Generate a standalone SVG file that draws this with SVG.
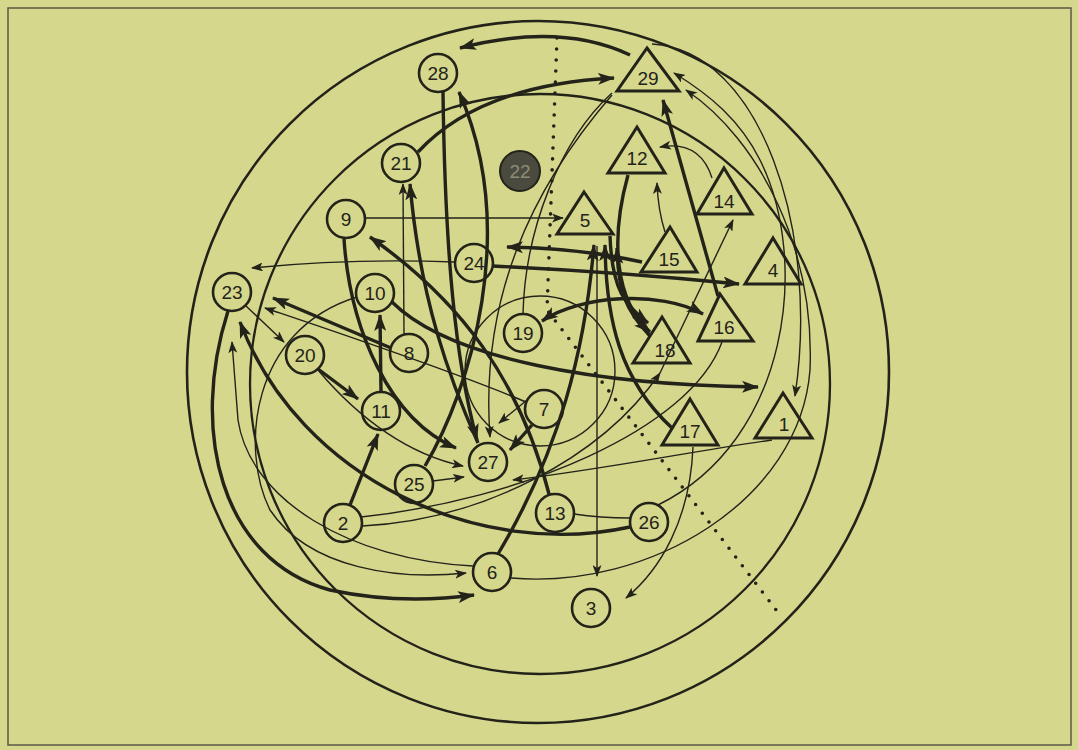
<svg xmlns="http://www.w3.org/2000/svg" width="1078" height="750" viewBox="0 0 1078 750">
<style>
.bg{fill:#d5d78c}
.frame{fill:none;stroke:#5a5a48;stroke-width:1.5}
.ring{fill:none;stroke:#23231a;stroke-width:2.6}
.ring2{fill:none;stroke:#23231a;stroke-width:2.3}
.k{fill:none;stroke:#23231a;stroke-width:3.4}
.t{fill:none;stroke:#23231a;stroke-width:1.4}
.nd{fill:none;stroke:#23231a;stroke-width:2.6}
.tri{fill:none;stroke:#23231a;stroke-width:3;stroke-linejoin:miter}
.lb{font-family:"Liberation Sans",Arial,sans-serif;font-size:19px;fill:#23231a;text-anchor:middle}
.dots{fill:none;stroke:#23231a;stroke-width:3.6;stroke-linecap:round;stroke-dasharray:0 11}
</style>
<defs>
<marker id="ak" markerUnits="userSpaceOnUse" markerWidth="17" markerHeight="12" refX="16" refY="6" orient="auto-start-reverse"><path d="M0,0 L17,6 L0,12 L4,6 Z" fill="#23231a"/></marker>
<marker id="at" markerUnits="userSpaceOnUse" markerWidth="12" markerHeight="9" refX="11" refY="4.5" orient="auto-start-reverse"><path d="M0,0 L12,4.5 L0,9 L3,4.5 Z" fill="#23231a"/></marker>
</defs>
<rect class="bg" x="0" y="0" width="1078" height="750"/>
<rect class="frame" x="8" y="8" width="1063" height="737"/>
<g id="rings">
<circle class="ring" cx="538" cy="372" r="351"/>
<circle class="ring2" cx="540" cy="384" r="290"/>
<circle class="t" cx="540" cy="371" r="75"/>
<polyline class="dots" points="557,38 547,310 780,615"/>
</g>
<g id="connectors">
<path class="k" d="M630,55 Q560,22 460,48" marker-end="url(#ak)"/>
<path class="k" d="M418,152 Q480,85 614,78" marker-end="url(#ak)"/>
<path class="k" d="M443,92 C445,250 455,360 477,440" marker-end="url(#ak)"/>
<path class="k" d="M425,466 C470,390 520,230 459,92" marker-end="url(#ak)"/>
<path class="k" d="M478,443 C450,380 420,300 410,184" marker-end="url(#ak)"/>
<path class="k" d="M344,239 C350,330 390,420 456,448" marker-end="url(#ak)"/>
<path class="k" d="M549,494 C520,380 460,300 370,237" marker-end="url(#ak)"/>
<path class="k" d="M392,302 C450,360 600,385 758,387" marker-end="url(#ak)"/>
<path class="k" d="M391,348 L273,298" marker-end="url(#ak)"/>
<path class="k" d="M381,392 L380,315" marker-end="url(#ak)"/>
<path class="k" d="M318,369 L358,399" marker-end="url(#ak)"/>
<path class="k" d="M350,505 L378,434" marker-end="url(#ak)"/>
<path class="k" d="M228,311 C190,430 220,560 330,590 Q400,605 474,595" marker-end="url(#ak)"/>
<path class="k" d="M630,527 C480,560 300,480 240,322" marker-end="url(#ak)"/>
<path class="k" d="M493,266 Q620,272 739,284" marker-end="url(#ak)"/>
<path class="k" d="M642,262 Q580,248 507,247" marker-end="url(#ak)"/>
<path class="k" d="M542,321 C580,295 660,290 703,314" marker-start="url(#ak)" marker-end="url(#ak)"/>
<path class="k" d="M718,296 L663,100" marker-end="url(#ak)"/>
<path class="k" d="M498,554 C560,450 585,350 594,245" marker-end="url(#ak)"/>
<path class="k" d="M672,428 C620,380 606,320 605,245" marker-end="url(#ak)"/>
<path class="k" d="M610,236 C612,290 625,305 648,323" marker-end="url(#ak)"/>
<path class="k" d="M650,336 C625,310 618,290 617,248" marker-end="url(#ak)"/>
<path class="k" d="M628,175 C610,240 615,300 650,332" marker-end="url(#ak)"/>
<path class="k" d="M532,425 L510,450" marker-end="url(#ak)"/>
<path class="t" d="M366,218 L563,218" marker-end="url(#at)"/>
<path class="t" d="M455,262 Q350,258 252,268" marker-end="url(#at)"/>
<path class="t" d="M712,178 Q700,140 660,147" marker-end="url(#at)"/>
<path class="t" d="M665,232 Q658,210 657,183" marker-end="url(#at)"/>
<path class="t" d="M404,334 L403,184" marker-end="url(#at)"/>
<path class="t" d="M246,306 L284,342" marker-end="url(#at)"/>
<path class="t" d="M526,402 C450,370 330,330 265,308" marker-end="url(#at)"/>
<path class="t" d="M527,400 L499,423" marker-end="url(#at)"/>
<path class="t" d="M433,481 L464,477" marker-end="url(#at)"/>
<path class="t" d="M318,370 C360,420 410,455 463,466" marker-end="url(#at)"/>
<path class="t" d="M612,95 C530,190 480,300 490,437" marker-end="url(#at)"/>
<path class="t" d="M523,314 C525,230 560,140 612,93"/>
<path class="t" d="M597,246 L597,576" marker-end="url(#at)"/>
<path class="t" d="M693,447 C690,520 660,570 626,598" marker-end="url(#at)"/>
<path class="t" d="M574,514 Q600,518 630,518"/>
<path class="t" d="M362,526 C480,520 600,460 660,373" marker-end="url(#at)"/>
<path class="t" d="M722,342 C690,430 520,500 361,517"/>
<path class="t" d="M660,373 L733,220" marker-end="url(#at)"/>
<path class="t" d="M772,440 C700,450 600,470 513,480" marker-end="url(#at)"/>
<path class="t" d="M652,44 C760,50 820,230 795,396" marker-end="url(#at)"/>
<path class="t" d="M658,505 C790,440 810,260 760,160 C740,120 710,95 674,73" marker-end="url(#at)"/>
<path class="t" d="M511,578 C650,590 800,500 810,370 C815,250 760,140 686,90" marker-end="url(#at)"/>
<path class="t" d="M357,297 C250,330 240,450 270,510 C310,570 400,580 466,573" marker-end="url(#at)"/>
<path class="t" d="M473,566 C350,560 250,500 238,420 L232,342" marker-end="url(#at)"/>
</g>
<g id="n28"><circle class="nd" cx="438" cy="73" r="19"/><text class="lb" x="438" y="80">28</text></g>
<g id="n21"><circle class="nd" cx="401" cy="163" r="19"/><text class="lb" x="401" y="170">21</text></g>
<g id="n22"><circle cx="520" cy="171" r="20" fill="#4a4a3e" stroke="#23231a" stroke-width="2"/><text class="lb" x="520" y="178" style="fill:#8e8e78">22</text></g>
<g id="n9"><circle class="nd" cx="346" cy="219" r="19"/><text class="lb" x="346" y="226">9</text></g>
<g id="n24"><circle class="nd" cx="474" cy="263" r="19"/><text class="lb" x="474" y="270">24</text></g>
<g id="n23"><circle class="nd" cx="232" cy="292" r="19"/><text class="lb" x="232" y="299">23</text></g>
<g id="n10"><circle class="nd" cx="375" cy="293" r="19"/><text class="lb" x="375" y="300">10</text></g>
<g id="n8"><circle class="nd" cx="409" cy="353" r="19"/><text class="lb" x="409" y="360">8</text></g>
<g id="n20"><circle class="nd" cx="305" cy="355" r="19"/><text class="lb" x="305" y="362">20</text></g>
<g id="n19"><circle class="nd" cx="523" cy="333" r="19"/><text class="lb" x="523" y="340">19</text></g>
<g id="n11"><circle class="nd" cx="381" cy="411" r="19"/><text class="lb" x="381" y="418">11</text></g>
<g id="n7"><circle class="nd" cx="544" cy="409" r="19"/><text class="lb" x="544" y="416">7</text></g>
<g id="n27"><circle class="nd" cx="488" cy="462" r="19"/><text class="lb" x="488" y="469">27</text></g>
<g id="n25"><circle class="nd" cx="414" cy="484" r="19"/><text class="lb" x="414" y="491">25</text></g>
<g id="n2"><circle class="nd" cx="343" cy="523" r="19"/><text class="lb" x="343" y="530">2</text></g>
<g id="n13"><circle class="nd" cx="555" cy="513" r="19"/><text class="lb" x="555" y="520">13</text></g>
<g id="n26"><circle class="nd" cx="649" cy="522" r="19"/><text class="lb" x="649" y="529">26</text></g>
<g id="n6"><circle class="nd" cx="492" cy="572" r="19"/><text class="lb" x="492" y="579">6</text></g>
<g id="n3"><circle class="nd" cx="591" cy="608" r="19"/><text class="lb" x="591" y="615">3</text></g>
<g id="n29"><polygon class="tri" points="647,48 679,91 617,91"/><text class="lb" x="648" y="85">29</text></g>
<g id="n12"><polygon class="tri" points="637,127 665,173 608,173"/><text class="lb" x="637" y="165">12</text></g>
<g id="n14"><polygon class="tri" points="724,168 752,214 697,214"/><text class="lb" x="724" y="208">14</text></g>
<g id="n5"><polygon class="tri" points="584,192 613,234 557,234"/><text class="lb" x="585" y="227">5</text></g>
<g id="n15"><polygon class="tri" points="670,227 697,272 641,272"/><text class="lb" x="669" y="266">15</text></g>
<g id="n4"><polygon class="tri" points="773,238 801,284 745,284"/><text class="lb" x="773" y="277">4</text></g>
<g id="n16"><polygon class="tri" points="720,294 753,341 698,341"/><text class="lb" x="724" y="334">16</text></g>
<g id="n18"><polygon class="tri" points="662,317 690,363 633,363"/><text class="lb" x="665" y="357">18</text></g>
<g id="n17"><polygon class="tri" points="690,399 718,445 662,445"/><text class="lb" x="690" y="438">17</text></g>
<g id="n1"><polygon class="tri" points="783,393 812,438 755,438"/><text class="lb" x="784" y="431">1</text></g>
</svg>
